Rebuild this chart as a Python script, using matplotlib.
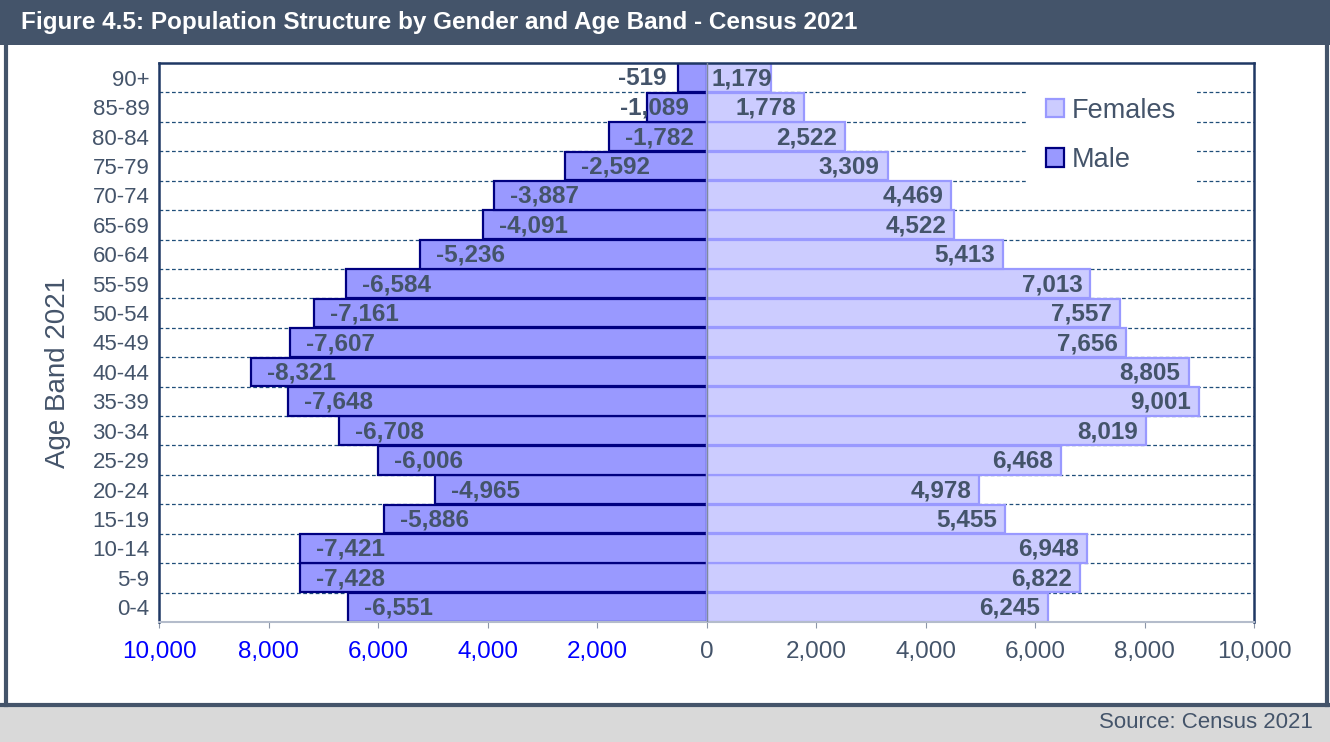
import matplotlib.pyplot as plt
from matplotlib.patches import Patch, Rectangle
from matplotlib.lines import Line2D

plt.rcParams['font.family'] = ['Liberation Sans Narrow', 'Liberation Sans', 'DejaVu Sans']

age_bands = ['0-4', '5-9', '10-14', '15-19', '20-24', '25-29', '30-34', '35-39',
             '40-44', '45-49', '50-54', '55-59', '60-64', '65-69', '70-74',
             '75-79', '80-84', '85-89', '90+']
male = [-6551, -7428, -7421, -5886, -4965, -6006, -6708, -7648, -8321, -7607,
        -7161, -6584, -5236, -4091, -3887, -2592, -1782, -1089, -519]
females = [6245, 6822, 6948, 5455, 4978, 6468, 8019, 9001, 8805, 7656,
           7557, 7013, 5413, 4522, 4469, 3309, 2522, 1778, 1179]
x_ticks = [-10000, -8000, -6000, -4000, -2000, 0, 2000, 4000, 6000, 8000, 10000]

slate = '#44546A'
male_fill, male_edge = '#9999FF', '#000080'
fem_fill, fem_edge = '#CCCCFF', '#9999FF'

fig = plt.figure(figsize=(13.3, 7.42), dpi=100)
W, H = 1330, 742

# frame: title band, side borders, footer
fig.patches.append(Rectangle((0, 1 - 45 / H), 1, 45 / H, transform=fig.transFigure,
                             facecolor=slate, edgecolor='none', zorder=0))
fig.patches.append(Rectangle((0, 0), 1, 36 / H, transform=fig.transFigure,
                             facecolor='#D9D9D9', edgecolor='none', zorder=0))
fig.lines.append(Line2D([0, 1], [37 / H, 37 / H], transform=fig.transFigure,
                        color=slate, lw=3))
fig.lines.append(Line2D([6 / W, 6 / W], [37 / H, 1], transform=fig.transFigure,
                        color=slate, lw=3))
fig.lines.append(Line2D([1327 / W, 1327 / W], [37 / H, 1], transform=fig.transFigure,
                        color=slate, lw=3))

fig.text(21 / W, 1 - 22 / H, 'Figure 4.5: Population Structure by Gender and Age Band - Census 2021',
         color='white', fontsize=17.5, fontweight='bold', va='center', ha='left')
fig.text(1313 / W, 1 - 722 / H, 'Source: Census 2021', color=slate, fontsize=16,
         va='center', ha='right')

ax = fig.add_axes([159 / W, 1 - 622 / H, 1095 / W, 559 / H])
y = list(range(len(age_bands)))

ax.barh(y, male, height=0.98, color=male_fill, edgecolor=male_edge,
        linewidth=1.6, zorder=2)
ax.barh(y, females, height=0.98, color=fem_fill, edgecolor=fem_edge,
        linewidth=1.6, zorder=2)
ax.axvline(0, color='#7F8A9C', lw=1, zorder=3)

# dashed separators between age bands
for k in range(len(age_bands) - 1):
    ax.axhline(k + 0.5, color='#1F4E79', lw=0.9, ls=(0, (3, 2)), zorder=1)

ax.set_xlim(-10000, 10000)
ax.set_ylim(-0.5, len(age_bands) - 0.5)

lab_kw = dict(textcoords='offset pixels', va='center', fontsize=17.5,
              fontweight='bold', color=slate, zorder=4)
for yi, v in zip(y, male):
    txt = f'{v:,}'
    if abs(v) < 800:
        ax.annotate(txt, (v, yi), xytext=(-12, -1), ha='right', **lab_kw)
    elif abs(v) < 1500:
        ax.annotate(txt, (0, yi), xytext=(-18, -1), ha='right', **lab_kw)
    else:
        ax.annotate(txt, (v, yi), xytext=(16, -1), ha='left', **lab_kw)
for yi, v in zip(y, females):
    if v < 1500:
        ax.annotate(f'{v:,}', (0, yi), xytext=(5, -1), ha='left', **lab_kw)
    else:
        ax.annotate(f'{v:,}', (v, yi), xytext=(-8, -1), ha='right', **lab_kw)

ax.set_yticks(y)
ax.set_yticklabels(age_bands, color=slate, fontsize=16)
ax.tick_params(axis='y', length=0, pad=7)
ax.set_xticks(x_ticks)
ax.set_xticklabels([f'{abs(t):,}' for t in x_ticks], fontsize=17.5)
for t, lbl in zip(x_ticks, ax.get_xticklabels()):
    lbl.set_color('#0000FF' if t < 0 else slate)
ax.tick_params(axis='x', length=4, color='#8C96A8', pad=10)

for side in ('left', 'top', 'right'):
    ax.spines[side].set_color('#1F3864')
    ax.spines[side].set_linewidth(1.8)
ax.spines['bottom'].set_color('#B4BCCB')
ax.spines['bottom'].set_linewidth(1.5)

fig.text(58 / W, 1 - 372 / H, 'Age Band 2021', rotation=90, color=slate,
         fontsize=20, va='center', ha='center')

handles = [Patch(facecolor=fem_fill, edgecolor=fem_edge, linewidth=1.6, label='Females'),
           Patch(facecolor=male_fill, edgecolor=male_edge, linewidth=1.6, label='Male')]
leg = ax.legend(handles=handles, loc='upper left',
                bbox_to_anchor=((1027 - 159) / 1095, (622 - 79) / 559),
                fontsize=19.5, frameon=True, facecolor='white', edgecolor='none',
                framealpha=1, fancybox=False, handlelength=0.65, handleheight=0.65,
                handletextpad=0.3, labelspacing=0.85, borderpad=0.7,
                borderaxespad=0)
for t in leg.get_texts():
    t.set_color(slate)
leg.set_zorder(5)

fig.savefig('out.png', dpi=100)
